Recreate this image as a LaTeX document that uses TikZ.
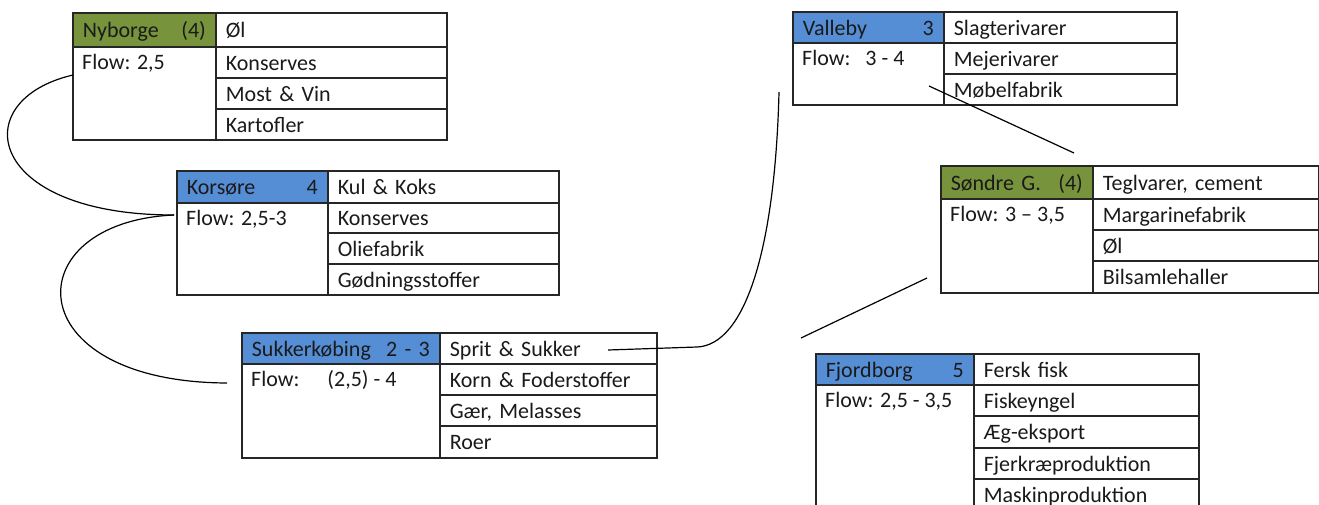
\documentclass[tikz,border=0pt]{standalone}
\usepackage{fontspec}
\setmainfont{Carlito}
\usetikzlibrary{calc}
\definecolor{hdrgreen}{HTML}{77933C}
\definecolor{hdrblue}{HTML}{558ED5}
\definecolor{ink}{HTML}{1A1A1A}
\definecolor{rule}{HTML}{262626}
\tikzset{
  cellbox/.style={draw=rule, line width=1.7pt, anchor=north west, inner xsep=10pt, inner ysep=0pt,
    align=left, font=\fontsize{22}{25}\selectfont, text=ink, text height=18pt, text depth=2pt},
  plaincell/.style={cellbox, fill=white},
  greenhdr/.style={cellbox, fill=hdrgreen},
  bluehdr/.style={cellbox, fill=hdrblue},
  flowtext/.style={anchor=west, inner sep=0pt, font=\fontsize{22}{25}\selectfont, text=ink,
    text height=18pt, text depth=2pt},
  link/.style={line width=1.2pt, draw=black}
}
% name, x, y, width, height, style, text
\newcommand\tcell[7]{%
  \pgfmathsetlengthmacro\tcw{#4pt-20pt}%
  \node[#6, minimum width=#4pt, minimum height=#5pt, text width=\tcw] (#1) at (#2,#3) {#7};}
\begin{document}
\begin{tikzpicture}[x=1pt,y=-1pt]
\clip (0,0) rectangle (1319,504);
\fill[white] (0,0) rectangle (1319,504);

% ---------- Nyborge ----------
\tcell{ny-h}{72}{12}{143}{34}{greenhdr}{Nyborge\hfill(4)\hspace{5pt}}
\tcell{ny-b}{72}{46}{143}{93}{plaincell}{}
\node[flowtext] (ny-flow) at ([shift={(10,15.5)}]ny-b.north west) {Flow: 2,5};
\tcell{ny-1}{215}{12}{231}{34}{plaincell}{Øl}
\tcell{ny-2}{215}{46}{231}{31}{plaincell}{Konserves}
\tcell{ny-3}{215}{77}{231}{31}{plaincell}{Most \& Vin}
\tcell{ny-4}{215}{108}{231}{31}{plaincell}{Kartofler}

% ---------- Korsøre ----------
\tcell{ko-h}{176}{170}{151}{32}{bluehdr}{Korsøre\hfill 4\hspace{8pt}}
\tcell{ko-b}{176}{202}{151}{92}{plaincell}{}
\node[flowtext] (ko-flow) at ([shift={(10,15.5)}]ko-b.north west) {Flow: 2,5-3};
\tcell{ko-1}{327}{170}{231}{32}{plaincell}{Kul \& Koks}
\tcell{ko-2}{327}{202}{231}{30}{plaincell}{Konserves}
\tcell{ko-3}{327}{232}{231}{31}{plaincell}{Oliefabrik}
\tcell{ko-4}{327}{263}{231}{31}{plaincell}{Gødningsstoffer}

% ---------- Sukkerkøbing ----------
\tcell{sk-h}{241}{332}{198}{31}{bluehdr}{Sukkerkøbing\hfill 2 - 3\hspace{4pt}}
\tcell{sk-b}{241}{363}{198}{94}{plaincell}{}
\node[flowtext] (sk-flow) at ([shift={(10,15.5)}]sk-b.north west) {Flow:\hspace{28pt}(2,5) - 4};
\tcell{sk-1}{439}{332}{217}{31}{plaincell}{Sprit \& Sukker}
\tcell{sk-2}{439}{363}{217}{31}{plaincell}{Korn \& Foderstoffer}
\tcell{sk-3}{439}{394}{217}{31}{plaincell}{Gær, Melasses}
\tcell{sk-4}{439}{425}{217}{32}{plaincell}{Roer}

% ---------- Valleby ----------
\tcell{va-h}{792}{11}{151}{31}{bluehdr}{Valleby\hfill 3\hspace{7pt}}
\tcell{va-b}{792}{42}{151}{62}{plaincell}{}
\node[flowtext] (va-flow) at ([shift={(10,15.5)}]va-b.north west) {Flow:\hspace{15pt}3 - 4};
\tcell{va-1}{943}{11}{233}{31}{plaincell}{Slagterivarer}
\tcell{va-2}{943}{42}{233}{31}{plaincell}{Mejerivarer}
\tcell{va-3}{943}{73}{233}{31}{plaincell}{Møbelfabrik}

% ---------- Søndre G. ----------
\tcell{sg-h}{940}{165}{152}{33}{greenhdr}{Søndre G.\hfill(4)\hspace{6pt}}
\tcell{sg-b}{940}{198}{152}{94}{plaincell}{}
\node[flowtext] (sg-flow) at ([shift={(10,15.5)}]sg-b.north west) {Flow: 3 – 3,5};
\tcell{sg-1}{1092}{165}{226}{33}{plaincell}{Teglvarer, cement}
\tcell{sg-2}{1092}{198}{226}{31}{plaincell}{Margarinefabrik}
\tcell{sg-3}{1092}{229}{226}{31}{plaincell}{Øl}
\tcell{sg-4}{1092}{260}{226}{32}{plaincell}{Bilsamlehaller}

% ---------- Fjordborg ----------
\tcell{fj-h}{815}{353}{158}{31}{bluehdr}{Fjordborg\hfill 5\hspace{7pt}}
\tcell{fj-b}{815}{384}{158}{126}{plaincell}{}
\node[flowtext] (fj-flow) at ([shift={(10,15.5)}]fj-b.north west) {Flow: 2,5 - 3,5};
\tcell{fj-1}{973}{353}{225}{31}{plaincell}{Fersk fisk}
\tcell{fj-2}{973}{384}{225}{31}{plaincell}{Fiskeyngel}
\tcell{fj-3}{973}{415}{225}{32}{plaincell}{Æg-eksport}
\tcell{fj-4}{973}{447}{225}{31}{plaincell}{Fjerkræproduktion}
\tcell{fj-5}{973}{478}{225}{31}{plaincell}{Maskinproduktion}

% ---------- connector end points ----------
\coordinate (c-ny) at (73,75);
\coordinate (c-ko) at (174,215);
\coordinate (c-sk) at (227,383);
\coordinate (c-sp) at (608,350);
\coordinate (c-bend) at (697,347);
\coordinate (c-va) at (779,92);
\coordinate (c-va2) at (929,86);
\coordinate (c-sg) at (1074,153);
\coordinate (c-sg2) at (927,278);
\coordinate (c-fj) at (801,338);

% ---------- connectors ----------
\draw[link] (c-ny) .. controls (-35,100) and (-15,215) .. (c-ko);
\draw[link] (c-ko) .. controls (15,222) and (15,382) .. (c-sk);
\draw[link] (c-sp) -- (c-bend) .. controls (745,345) and (775,250) .. (c-va);
\draw[link] (c-va2) -- (c-sg);
\draw[link] (c-sg2) -- (c-fj);
\end{tikzpicture}
\end{document}
